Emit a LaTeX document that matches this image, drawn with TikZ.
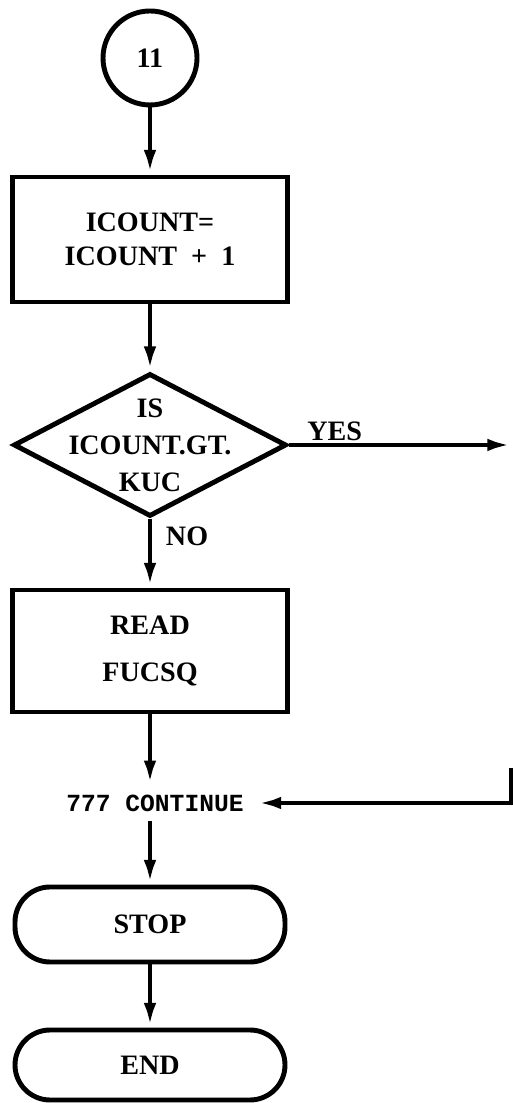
\documentclass[tikz,border=0pt]{standalone}
\usepackage{fontspec}
\setmainfont{Liberation Serif}
\setmonofont{Liberation Mono}
\usetikzlibrary{arrows.meta,positioning,shapes.geometric}

\begin{document}
\begin{tikzpicture}[
	>={Latex[length=14pt,width=7pt]},
	line width=2.8pt,
	every node/.style={font=\fontsize{16}{19}\selectfont\bfseries},
	conn/.style={draw, circle, minimum size=1.88cm, inner sep=0pt},
	box/.style={draw, align=center, minimum width=5.5cm, minimum height=2.5cm},
	test/.style={draw, diamond, minimum width=5.46cm, minimum height=2.86cm, inner sep=0pt},
	term/.style={draw, rounded corners=0.7cm, minimum width=5.4cm, minimum height=1.5cm},
	lbl/.style={inner sep=2pt}
	]
	\useasboundingbox (0,0) rectangle (10.26,22.06);
	
	%--- main column ---
	\node[conn] (c11) at (3.0,20.90) {11};
	\node[box] (inc) at (3.0,17.27) {ICOUNT=\\ICOUNT\ \ +\ \ 1};
	\node[test, label={[align=center, font=\fontsize{16}{21}\selectfont\bfseries]center:IS\\ICOUNT.GT.\\KUC}] (kuc) at (3.0,13.16) {};
	\node[box, minimum height=2.44cm] (read) at (3.0,9.04) {READ\\[8pt]FUCSQ};
	\node[inner xsep=6pt, inner ysep=4pt, font=\fontsize{14}{17}\selectfont\ttfamily\bfseries] (cont) at (3.1,6.0) {777 CONTINUE};
	\node[term] (stop) at (3.0,3.57) {STOP};
	\node[term, minimum height=1.4cm] (end) at (3.0,0.76) {END};
	
	%--- branch labels ---
	\node[lbl, above right=-1pt and 0.25cm of kuc.east] (yes) {YES};
	\node[lbl, below right=1pt and 0.2cm of kuc.south] (no) {NO};
	
	%--- off-page ends ---
	\coordinate (yesout) at (10.24,13.16);
	\coordinate (backin) at (10.22,6.70);
	
	%--- arrows ---
	\draw[->] (c11) -- (inc);
	\draw[->] (inc) -- (kuc);
	\draw[->] (kuc) -- (read);
	\draw[->] (kuc.east) -- (yesout);
	\draw[->] (read) -- (read.south |- cont.north);
	\draw[->] (backin) |- (cont.east);
	\draw[->] (cont.south -| stop.north) -- (stop);
	\draw[->] (stop) -- (end);
	
\end{tikzpicture}
\end{document}
